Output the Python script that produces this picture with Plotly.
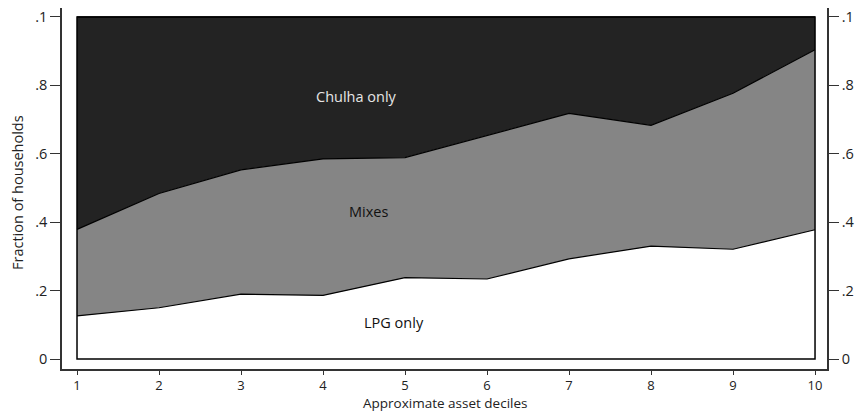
import plotly.graph_objects as go

deciles = [1, 2, 3, 4, 5, 6, 7, 8, 9, 10]
lpg_only = [0.126, 0.150, 0.190, 0.186, 0.238, 0.234, 0.293, 0.330, 0.321, 0.378]
lpg_plus_mixes = [0.379, 0.484, 0.553, 0.585, 0.589, 0.654, 0.718, 0.683, 0.777, 0.904]
total = [1.0] * 10
ytick_vals = [0, 0.2, 0.4, 0.6, 0.8, 1.0]
ytick_text = ["0", ".2", ".4", ".6", ".8", ".1"]

FONT = "Open Sans"
FS = 14.5
TFS = 13.5
fig = go.Figure()
fig.add_trace(go.Scatter(x=deciles, y=lpg_only, mode="lines", fill="tozeroy",
                         fillcolor="white", line=dict(color="black", width=1.2),
                         showlegend=False, hoverinfo="skip"))
fig.add_trace(go.Scatter(x=deciles, y=lpg_plus_mixes, mode="lines", fill="tonexty",
                         fillcolor="#858585", line=dict(color="black", width=1.2),
                         showlegend=False, hoverinfo="skip"))
fig.add_trace(go.Scatter(x=deciles, y=total, mode="lines", fill="tonexty",
                         fillcolor="#232323", line=dict(color="black", width=1.2),
                         showlegend=False, hoverinfo="skip"))
# invisible trace for right axis
fig.add_trace(go.Scatter(x=[deciles[0]], y=[0], yaxis="y2", mode="markers",
                         marker=dict(opacity=0), showlegend=False, hoverinfo="skip"))

fig.add_shape(type="rect", x0=deciles[0], x1=deciles[-1], y0=0, y1=1,
              line=dict(color="black", width=1.5), layer="above")

fig.add_annotation(x=4.41, y=0.766, text="Chulha only", showarrow=False,
                   font=dict(family=FONT, size=FS, color="#e6e6e6"))
fig.add_annotation(x=4.55, y=0.43, text="Mixes", showarrow=False,
                   font=dict(family=FONT, size=FS, color="#111111"))
fig.add_annotation(x=4.87, y=0.108, text="LPG only", showarrow=False,
                   font=dict(family=FONT, size=FS, color="#111111"))

# axis titles
fig.add_annotation(xref="paper", yref="paper", x=0.5, y=-0.094, yanchor="middle",
                   text="Approximate asset deciles", showarrow=False,
                   font=dict(family=FONT, size=TFS, color="#222222"))
fig.add_annotation(xref="paper", yref="paper", x=-0.059, y=0.49, xanchor="center",
                   yanchor="middle", textangle=-90,
                   text="Fraction of households", showarrow=False,
                   font=dict(family=FONT, size=FS, color="#222222"))

rng = [-0.029, 1.026]
fig.update_layout(
    width=865, height=411,
    margin=dict(l=62, r=38, t=8, b=42, autoexpand=False),
    paper_bgcolor="white", plot_bgcolor="white",
    font=dict(family=FONT, size=FS, color="#222222"),
    xaxis=dict(range=[0.817, 10.146], tickvals=deciles, ticks="outside", ticklen=4,
               tickcolor="#333333", tickwidth=1.3, automargin=False,
               showline=True, linecolor="#333333", linewidth=1.5, showgrid=False, zeroline=False,
               tickfont=dict(family=FONT, size=13)),
    yaxis=dict(range=rng, tickvals=ytick_vals, ticktext=ytick_text, ticks="outside",
               ticklen=10, tickcolor="#333333", tickwidth=1.3, automargin=False,
               showline=True, linecolor="#333333", linewidth=1.5, showgrid=False, zeroline=False,
               tickfont=dict(family=FONT, size=FS)),
    yaxis2=dict(range=rng, tickvals=ytick_vals, ticktext=ytick_text, ticks="outside",
                ticklen=10, tickcolor="#333333", tickwidth=1.3, overlaying="y", side="right",
                automargin=False,
                showline=True, linecolor="#333333", linewidth=1.5, showgrid=False, zeroline=False,
                tickfont=dict(family=FONT, size=FS)),
)
fig.write_html("out.html", config={"displayModeBar": False},
               post_script="document.body.style.margin='0px';document.body.style.overflow='hidden';")
